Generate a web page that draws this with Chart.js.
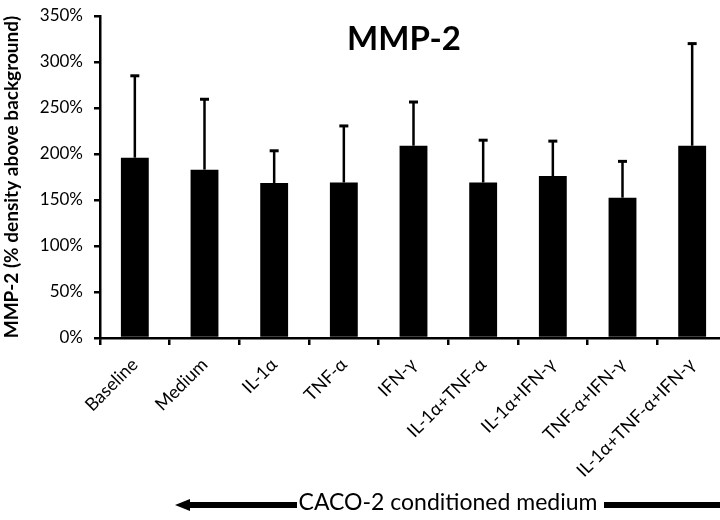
<!DOCTYPE html>
<html>
<head>
<meta charset="utf-8">
<script src="https://cdn.jsdelivr.net/npm/chart.js@4"></script>
<style>
    html, body { margin: 0; padding: 0; background: #fff; overflow: hidden; }
    #wrap { width: 720px; height: 520px; overflow: hidden; }
</style>
</head>
<body>
<div id="wrap"><canvas id="mmpChart" width="740" height="520"></canvas></div>
<script>
// values (percent density above background)
const categories = ['Baseline', 'Medium', 'IL-1\u03b1', 'TNF-\u03b1', 'IFN-\u03b3',
    'IL-1\u03b1+TNF-\u03b1', 'IL-1\u03b1+IFN-\u03b3', 'TNF-\u03b1+IFN-\u03b3', 'IL-1\u03b1+TNF-\u03b1+IFN-\u03b3'];
const means = [196, 183, 168.5, 169, 209, 169, 176, 152.5, 209];
const errors = [89, 76.5, 35, 61.5, 47.5, 46, 38, 39.5, 111];
const yTicks = [0, 50, 100, 150, 200, 250, 300, 350];

const FONT = 'Lato, "Open Sans", sans-serif';

// upward-only error bars with caps
const errorBars = {
    id: 'errorBars',
    afterDatasetsDraw(chart) {
        const { ctx } = chart;
        const y = chart.scales.y;
        const meta = chart.getDatasetMeta(0);
        ctx.save();
        ctx.strokeStyle = '#000';
        meta.data.forEach((bar, i) => {
            const top = y.getPixelForValue(means[i] + errors[i]);
            ctx.lineWidth = 2.5;
            ctx.beginPath();
            ctx.moveTo(bar.x, bar.y);
            ctx.lineTo(bar.x, top);
            ctx.stroke();
            ctx.lineWidth = 3;
            ctx.beginPath();
            ctx.moveTo(bar.x - 4.5, top);
            ctx.lineTo(bar.x + 4.5, top);
            ctx.stroke();
        });
        ctx.restore();
    }
};

// title and the "conditioned medium" arrow underneath
const annotations = {
    id: 'annotations',
    afterDraw(chart) {
        const { ctx } = chart;
        ctx.save();
        ctx.fillStyle = '#000';
        ctx.font = 'bold 33px ' + FONT;
        ctx.textAlign = 'center';
        ctx.textBaseline = 'alphabetic';
        ctx.fillText('MMP-2', 404, 50);

        ctx.font = '23px ' + FONT;
        ctx.textBaseline = 'middle';
        ctx.fillText('CACO-2 conditioned medium', 448, 503);

        // left arrow
        ctx.fillRect(188, 502, 109, 6);
        ctx.beginPath();
        ctx.moveTo(175, 505);
        ctx.lineTo(190, 499);
        ctx.lineTo(190, 511);
        ctx.closePath();
        ctx.fill();
        // right shaft (runs off the edge)
        ctx.fillRect(604, 502, 140, 6);
        ctx.restore();
    }
};

new Chart(document.getElementById('mmpChart'), {
    type: 'bar',
    data: {
        labels: categories,
        datasets: [{
            data: means,
            backgroundColor: '#000',
            borderWidth: 0,
            barPercentage: 0.4,
            categoryPercentage: 1
        }]
    },
    options: {
        responsive: false,
        animation: false,
        layout: { padding: { top: 16, right: 13, left: 0, bottom: 0 } },
        scales: {
            x: {
                afterFit(scale) {
                    scale.height = 182;
                    scale.paddingLeft = 0;
                    scale.paddingRight = 0;
                },
                grid: {
                    offset: true,
                    drawOnChartArea: false,
                    tickLength: 7,
                    color: '#000',
                    lineWidth: 2.5
                },
                border: { color: '#000', width: 2.5 },
                ticks: {
                    color: '#000',
                    font: { family: FONT, size: 18 },
                    minRotation: 45,
                    maxRotation: 45,
                    autoSkip: false,
                    padding: 9
                }
            },
            y: {
                min: 0,
                max: 350,
                afterFit(scale) {
                    scale.width = 100;
                    scale.paddingTop = 0;
                    scale.paddingBottom = 0;
                },
                afterBuildTicks(scale) { scale.ticks = yTicks.map(v => ({ value: v })); },
                grid: {
                    drawOnChartArea: false,
                    tickLength: 6,
                    color: '#000',
                    lineWidth: 2.5
                },
                border: { color: '#000', width: 2.5 },
                ticks: {
                    color: '#000',
                    font: { family: FONT, size: 17 },
                    padding: 11,
                    callback: v => v + '%'
                },
                title: {
                    display: true,
                    text: 'MMP-2 (% density above background)',
                    color: '#000',
                    font: { family: FONT, size: 19, weight: 'bold' },
                    padding: { top: 0, bottom: 3 }
                }
            }
        },
        plugins: {
            legend: { display: false },
            tooltip: { enabled: false }
        }
    },
    plugins: [errorBars, annotations]
});
</script>
</body>
</html>
